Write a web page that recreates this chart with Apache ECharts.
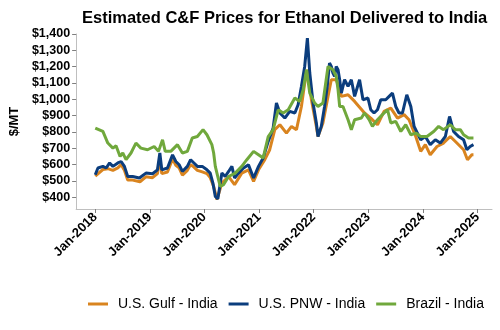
<!DOCTYPE html>
<html><head><meta charset="utf-8">
<script src="https://cdn.jsdelivr.net/npm/echarts@6/dist/echarts.min.js"></script>
<style>html,body{margin:0;padding:0;background:#fff}#c{width:500px;height:330px}</style>
</head><body><div id="c"></div>
<script>
const seriesNames = ['U.S. Gulf - India', 'U.S. PNW - India', 'Brazil - India'];
const yTickValues = [400,500,600,700,800,900,1000,1100,1200,1300,1400];
const xTickYears = [2018,2019,2020,2021,2022,2023,2024,2025];

const gulf = [
['2018-01-01',530],['2018-02-21',570],['2018-03-26',575],['2018-04-29',565],['2018-06-01',580],['2018-06-23',600],['2018-07-15',565],['2018-08-06',505],['2018-09-08',505],['2018-10-27',495],['2018-12-06',525],
['2019-01-19',520],['2019-02-21',545],['2019-03-09',640],['2019-03-22',545],['2019-04-29',555],['2019-06-02',635],['2019-06-24',595],['2019-07-16',580],['2019-08-07',535],['2019-09-09',565],['2019-10-01',600],['2019-10-23',585],['2019-11-15',565],['2019-12-18',555],
['2020-01-18',545],['2020-02-09',520],['2020-03-03',466],['2020-03-25',385],['2020-04-05',375],['2020-04-27',487],['2020-06-11',527],['2020-07-21',477],['2020-09-07',548],['2020-10-22',568],['2020-11-25',497],['2020-12-28',568],
['2021-02-08',630],['2021-03-13',691],['2021-04-16',814],['2021-05-20',844],['2021-07-03',793],['2021-08-06',834],['2021-09-08',814],['2021-10-11',956],['2021-11-02',1099],['2021-11-20',1181],['2021-12-17',997],
['2022-01-19',834],['2022-01-30',772],['2022-03-04',855],['2022-04-07',1018],['2022-04-29',1120],['2022-06-01',1120],['2022-06-24',1059],['2022-07-05',1018],['2022-08-19',1028],['2022-10-02',987],['2022-12-07',916],
['2023-01-18',885],['2023-03-04',844],['2023-04-17',926],['2023-06-01',946],['2023-07-16',885],['2023-08-29',906],['2023-10-01',875],['2023-11-15',772],['2023-12-18',681],
['2024-01-18',722],['2024-02-20',660],['2024-04-05',711],['2024-05-19',732],['2024-07-03',772],['2024-08-16',732],['2024-09-30',691],['2024-10-26',630],['2024-11-24',660],['2024-12-05',660]
];
const pnw = [
['2018-01-01',538],['2018-01-19',579],['2018-02-21',589],['2018-03-15',579],['2018-04-07',610],['2018-04-29',589],['2018-06-01',610],['2018-06-23',619],['2018-07-15',589],['2018-08-06',527],['2018-09-08',527],['2018-10-23',518],['2018-12-06',548],
['2019-01-19',544],['2019-02-21',568],['2019-03-09',671],['2019-03-22',568],['2019-04-29',579],['2019-06-02',660],['2019-06-24',619],['2019-07-16',599],['2019-08-07',558],['2019-09-09',589],['2019-10-01',630],['2019-10-23',610],['2019-11-15',589],['2019-12-18',589],
['2020-01-18',568],['2020-02-09',548],['2020-02-27',487],['2020-03-14',405],['2020-03-31',390],['2020-04-05',385],['2020-04-27',548],['2020-05-19',527],['2020-06-11',558],['2020-07-03',589],['2020-07-21',518],['2020-08-16',548],['2020-09-19',579],['2020-10-22',599],['2020-11-25',518],['2020-12-28',589],
['2021-01-28',640],['2021-03-03',742],['2021-04-05',824],['2021-04-27',977],['2021-05-20',916],['2021-06-22',885],['2021-07-25',926],['2021-08-28',916],['2021-09-19',967],['2021-10-11',1079],['2021-11-02',1201],['2021-11-20',1375],['2021-12-06',1161],['2021-12-28',977],
['2022-01-19',855],['2022-01-30',772],['2022-02-21',834],['2022-03-15',956],['2022-04-02',1079],['2022-04-17',1222],['2022-04-29',1201],['2022-05-10',1161],['2022-05-21',1140],['2022-06-01',1201],['2022-06-13',1181],['2022-06-24',1120],['2022-07-05',1038],['2022-07-27',1120],['2022-08-19',1079],['2022-09-10',1120],['2022-10-02',1018],['2022-11-04',1120],['2022-11-27',997],['2022-12-30',1008],
['2023-01-18',936],['2023-02-09',916],['2023-03-04',936],['2023-03-26',997],['2023-04-28',997],['2023-05-21',1018],['2023-06-12',1038],['2023-07-04',956],['2023-07-26',916],['2023-08-18',916],['2023-09-16',1028],['2023-10-13',956],['2023-11-04',834],['2023-11-26',793],['2023-12-18',752],
['2024-01-18',772],['2024-02-20',722],['2024-03-25',752],['2024-04-27',732],['2024-05-31',772],['2024-06-28',895],['2024-07-25',803],['2024-08-27',772],['2024-09-30',752],['2024-10-22',691],['2024-11-13',711],['2024-12-05',722]
];
const brazil = [
['2018-01-01',824],['2018-02-21',803],['2018-03-26',732],['2018-04-29',701],['2018-05-20',715],['2018-06-16',650],['2018-07-04',671],['2018-07-26',630],['2018-08-28',671],['2018-09-30',732],['2018-11-02',701],['2018-12-17',691],
['2019-01-30',711],['2019-02-28',681],['2019-03-27',752],['2019-04-14',681],['2019-05-21',681],['2019-07-05',722],['2019-08-07',671],['2019-09-09',681],['2019-10-12',763],['2019-11-15',772],['2019-12-23',814],
['2020-01-18',783],['2020-01-29',772],['2020-02-20',722],['2020-03-03',671],['2020-03-14',589],['2020-04-05',507],['2020-04-16',466],['2020-05-08',477],['2020-06-11',527],['2020-07-25',548],['2020-09-07',589],['2020-10-11',630],['2020-11-25',681],['2020-12-28',660],
['2021-01-28',640],['2021-03-03',772],['2021-04-05',814],['2021-05-09',936],['2021-06-11',916],['2021-07-15',936],['2021-08-28',1008],['2021-09-30',987],['2021-10-23',1059],['2021-11-14',1181],['2021-12-06',1038],
['2022-01-08',977],['2022-01-30',956],['2022-03-04',977],['2022-04-07',1201],['2022-05-10',1181],['2022-06-01',1140],['2022-06-13',1059],['2022-06-24',956],['2022-07-16',956],['2022-08-19',875],['2022-09-10',814],['2022-10-02',875],['2022-11-16',885],['2022-12-07',916],
['2023-01-07',875],['2023-01-29',834],['2023-03-04',875],['2023-04-06',906],['2023-05-10',936],['2023-06-01',855],['2023-07-04',865],['2023-08-07',803],['2023-09-09',844],['2023-10-13',783],['2023-11-15',793],['2023-12-18',772],
['2024-01-29',772],['2024-03-14',803],['2024-04-16',834],['2024-05-19',814],['2024-07-03',844],['2024-08-05',814],['2024-09-08',814],['2024-09-30',783],['2024-11-02',763],['2024-12-05',763]
];

const colors = ['#D9841F', '#0B3D7D', '#70A83C'];
const toTs = arr => arr.map(d => [Date.parse(d[0] + 'T00:00:00Z'), d[1]]);
const chart = echarts.init(document.getElementById('c'), null, {renderer: 'canvas'});
const xTicks = xTickYears.map(y => Date.UTC(y, 0, 1));
const font = 'Liberation Sans, Arial, sans-serif';
chart.setOption({
  animation: false,
  textStyle: {fontFamily: font},
  title: {
    text: 'Estimated C&F Prices for Ethanol Delivered to India',
    left: 77, top: 5,
    textStyle: {fontSize: 16.5, fontWeight: 'bold', color: '#000', fontFamily: font}
  },
  grid: {left: 73, right: 8, top: 34, bottom: 121, containLabel: false},
  legend: {
    top: 292, left: 83,
    icon: 'rect', itemWidth: 20, itemHeight: 3, itemGap: 11,
    textStyle: {fontSize: 14, color: '#000', fontFamily: font, padding: [0, 0, 0, 5]},
    data: seriesNames
  },
  xAxis: {
    type: 'value',
    min: Date.UTC(2017, 7, 26), max: Date.UTC(2025, 3, 8),
    splitLine: {show: false},
    axisLine: {lineStyle: {color: '#BFBFBF', width: 1}},
    axisTick: {show: true, length: 4, lineStyle: {color: '#7F7F7F'}, customValues: xTicks},
    axisLabel: {
      customValues: xTicks,
      rotate: 45, margin: 6,
      fontSize: 13, fontWeight: 'bold', color: '#000', fontFamily: font,
      formatter: v => 'Jan-' + new Date(v).getUTCFullYear()
    }
  },
  yAxis: {
    type: 'value',
    min: 328, max: 1400,
    name: '$/MT', nameLocation: 'middle', nameGap: 51, nameRotate: 90,
    nameTextStyle: {fontSize: 13, fontWeight: 'bold', color: '#000', fontFamily: font},
    splitLine: {show: false},
    axisLine: {show: true, lineStyle: {color: '#BFBFBF', width: 1}},
    axisTick: {show: true, length: 4, lineStyle: {color: '#7F7F7F'}, customValues: yTickValues},
    axisLabel: {
      customValues: yTickValues, margin: 6,
      fontSize: 12.5, fontWeight: 'bold', color: '#000', fontFamily: font,
      formatter: v => '$' + v.toLocaleString('en-US')
    }
  },
  series: [
    {name: seriesNames[0], type: 'line', data: toTs(gulf), showSymbol: false, lineStyle: {width: 3, color: colors[0]}, itemStyle: {color: colors[0]}},
    {name: seriesNames[1], type: 'line', data: toTs(pnw), showSymbol: false, lineStyle: {width: 3, color: colors[1]}, itemStyle: {color: colors[1]}},
    {name: seriesNames[2], type: 'line', data: toTs(brazil), showSymbol: false, lineStyle: {width: 3, color: colors[2]}, itemStyle: {color: colors[2]}}
  ]
});
</script></body></html>
